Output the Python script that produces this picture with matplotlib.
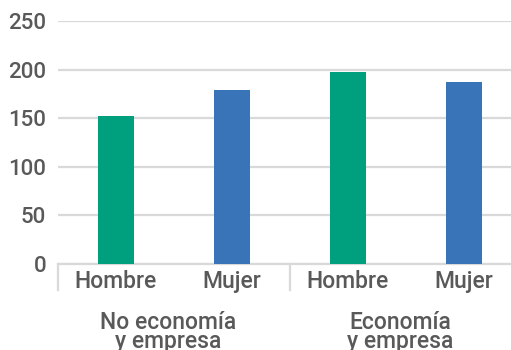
import numpy as np
import matplotlib.pyplot as plt

# data
sexos = ["Hombre", "Mujer", "Hombre", "Mujer"]
grupos = ["No economía\ny empresa", "Economía\ny empresa"]
valores = [152, 179, 198, 187]
colores = ["#00A07E", "#3A74B8", "#00A07E", "#3A74B8"]
yticks = [0, 50, 100, 150, 200, 250]

plt.rcParams['font.family'] = ['Roboto', 'DejaVu Sans']
plt.rcParams['font.weight'] = 'medium'
gris = "#595959"

fig = plt.figure(figsize=(5.11, 3.5), dpi=100)
W, H = 511, 350
ax = fig.add_axes([58 / W, 1 - 264 / H, 464 / W, 243 / H])

x = np.arange(len(valores))
ax.bar(x, valores, width=0.31, color=colores, zorder=3)

ax.set_xlim(-0.5, 3.5)
ax.set_ylim(0, 250)
ax.set_yticks(yticks)
ax.grid(axis='y', color="#d9d9d9", linewidth=1.6, zorder=0)
ax.tick_params(axis='y', length=0, pad=8.5, labelsize=16, labelcolor=gris)
ax.set_xticks([])
for s in ['top', 'right', 'left']:
    ax.spines[s].set_visible(False)
ax.spines['bottom'].set_color("#d9d9d9")
ax.spines['bottom'].set_linewidth(1.6)

tr = ax.get_xaxis_transform()
for xi, lab in zip(x, sexos):
    ax.text(xi, -24 / 243, lab, transform=tr, ha='center', va='baseline',
            fontsize=16.5, color=gris)

# separators between groups
for xs in [-0.5, 1.5, 3.5]:
    ax.plot([xs, xs], [0, -26 / 243], transform=tr, color="#d9d9d9",
            linewidth=1.6, clip_on=False)

for gi, lab in enumerate(grupos):
    ax.text(2 * gi + 0.45, -47 / 243, lab, transform=tr, ha='center', va='top',
            fontsize=16.5, color=gris, linespacing=0.8)

fig.savefig("out.png", dpi=100)
